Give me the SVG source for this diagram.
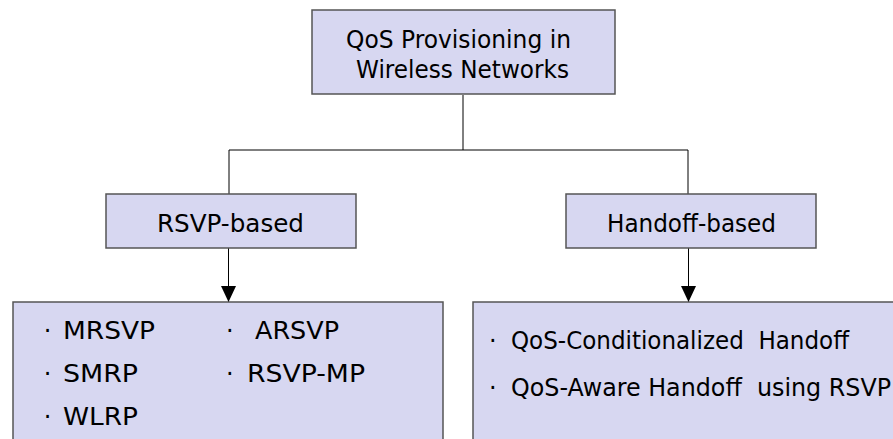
<svg xmlns="http://www.w3.org/2000/svg" width="893" height="439" viewBox="0 0 893 439">
<style>
.box{fill:#D7D7F1;stroke:#555;stroke-width:1.5}
.t{font-family:"DejaVu Sans",sans-serif;font-size:24px;fill:#000}
.ln{stroke:#000;stroke-width:1;fill:none}
</style>
<defs>
<marker id="ah" markerWidth="16" markerHeight="15" refX="16" refY="7.5" orient="auto" markerUnits="userSpaceOnUse">
<path d="M0,0 L16,7.5 L0,15 Z" fill="#000"/>
</marker>
</defs>
<rect width="893" height="439" fill="#fff"/>
<g id="connectors">
<path class="ln" d="M463,95 V150 M229,150 H688 M229,150 V194 M688,150 V194"/>
<path class="ln" d="M228.5,248 V302" marker-end="url(#ah)"/>
<path class="ln" d="M688.5,248 V302" marker-end="url(#ah)"/>
</g>
<g id="root">
<rect class="box" x="312" y="10" width="303" height="84"/>
<text class="t" x="346" y="48" textLength="225" lengthAdjust="spacingAndGlyphs">QoS Provisioning in</text>
<text class="t" x="356" y="78" textLength="213" lengthAdjust="spacingAndGlyphs">Wireless Networks</text>
</g>
<g id="rsvp">
<rect class="box" x="106" y="194" width="250" height="54"/>
<text class="t" x="157" y="232" textLength="147" lengthAdjust="spacingAndGlyphs">RSVP-based</text>
</g>
<g id="handoff">
<rect class="box" x="566" y="194" width="250" height="54"/>
<text class="t" x="607" y="232" textLength="169" lengthAdjust="spacingAndGlyphs">Handoff-based</text>
</g>
<g id="rsvp-list">
<rect class="box" x="13" y="302" width="430" height="150"/>
<text class="t" x="43.7" y="339">·</text><text class="t" x="63" y="339" textLength="92" lengthAdjust="spacingAndGlyphs">MRSVP</text>
<text class="t" x="43.7" y="382">·</text><text class="t" x="63" y="382" textLength="75" lengthAdjust="spacingAndGlyphs">SMRP</text>
<text class="t" x="43.7" y="425">·</text><text class="t" x="63" y="425" textLength="75" lengthAdjust="spacingAndGlyphs">WLRP</text>
<text class="t" x="226" y="339">·</text><text class="t" x="255" y="339" textLength="84" lengthAdjust="spacingAndGlyphs">ARSVP</text>
<text class="t" x="226" y="382">·</text><text class="t" x="247" y="382" textLength="118" lengthAdjust="spacingAndGlyphs">RSVP-MP</text>
</g>
<g id="handoff-list">
<rect class="box" x="473" y="302" width="440" height="150"/>
<text class="t" x="489" y="349">·</text><text class="t" x="511" y="349" xml:space="preserve" textLength="338" lengthAdjust="spacingAndGlyphs">QoS-Conditionalized  Handoff</text>
<text class="t" x="489" y="396">·</text><text class="t" x="511" y="396" xml:space="preserve" textLength="380" lengthAdjust="spacingAndGlyphs">QoS-Aware Handoff  using RSVP</text>
</g>
</svg>
